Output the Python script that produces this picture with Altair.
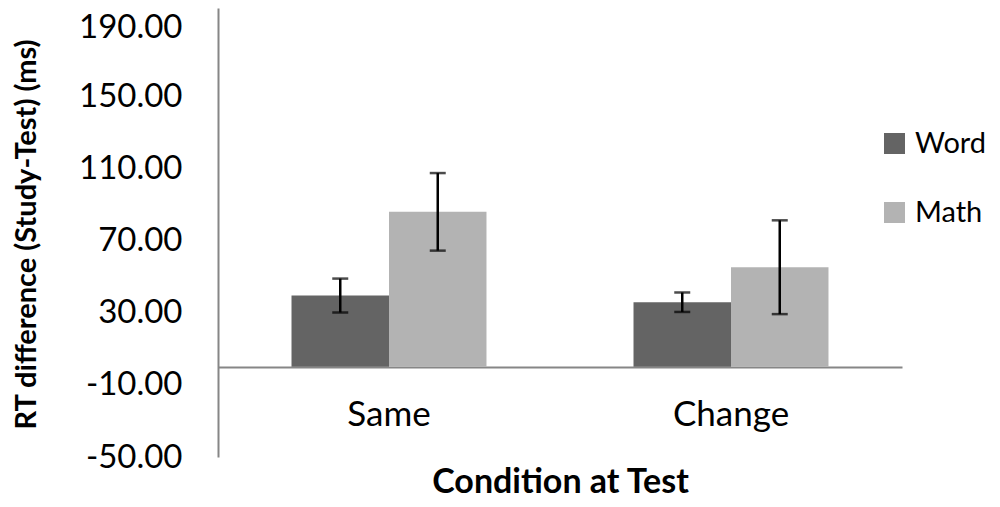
import altair as alt
import pandas as pd

conditions = ["Same", "Same", "Change", "Change"]
groups = ["Word", "Math", "Word", "Math"]
means = [39.5, 85.9, 35.8, 55.2]
errors = [9.4, 21.5, 5.4, 26.0]
y_ticks = [-50, -10, 30, 70, 110, 150, 190]

df = pd.DataFrame({
    "cond": conditions,
    "group": groups,
    "mean": means,
    "lo": [m - e for m, e in zip(means, errors)],
    "hi": [m + e for m, e in zip(means, errors)],
})

FONT = "Lato"
x_enc = alt.X("cond:N", sort=["Same", "Change"],
              scale=alt.Scale(paddingInner=0, paddingOuter=0),
              axis=alt.Axis(title="Condition at Test", orient="bottom", offset=-90,
                            labelAngle=0, ticks=False, domainColor="#868686", domainWidth=2,
                            labelFont=FONT, labelFontSize=35, labelColor="#000000",
                            labelPadding=30, titleFont=FONT, titleFontSize=34,
                            titleFontWeight="bold", titleColor="#000000", titlePadding=33))
xo_enc = alt.XOffset("group:N", sort=["Word", "Math"],
                     scale=alt.Scale(paddingInner=0, paddingOuter=0.754))
y_scale = alt.Scale(domain=[-50, 198.9], nice=False, zero=False)

bars = alt.Chart(df).mark_bar().encode(
    x=x_enc,
    xOffset=xo_enc,
    y=alt.Y("mean:Q", scale=y_scale,
            axis=alt.Axis(title="RT difference (Study-Test) (ms)", values=y_ticks,
                          labelExpr="(datum.value < 0 ? '-' : '') + format(abs(datum.value), '.2f')",
                          labelOffset={"condition": {"test": "datum.value == 190", "value": 3}, "value": 0},
                          ticks=False, grid=False, domainColor="#868686", domainWidth=2,
                          labelFont=FONT, labelFontSize=33, labelColor="#000000", labelPadding=36,
                          titleFont=FONT, titleFontSize=29, titleFontWeight="bold", titleColor="#000000",
                          titleX=-192, titleY=226, titleAlign="center", titleBaseline="middle")),
    y2=alt.datum(0),
    color=alt.Color("group:N", sort=["Word", "Math"],
                    scale=alt.Scale(domain=["Word", "Math"], range=["#646464", "#b3b3b3"]),
                    legend=alt.Legend(title=None, orient="none", legendX=662, legendY=121,
                                      symbolType="square", symbolSize=441, symbolStrokeWidth=0,
                                      labelFont=FONT, labelFontSize=29, labelColor="#000000",
                                      labelOffset=6, rowPadding=39)),
)

rules = alt.Chart(df).mark_rule(color="black", strokeWidth=2.5).encode(
    x=alt.X("cond:N", sort=["Same", "Change"]),
    xOffset=xo_enc,
    y=alt.Y("lo:Q", scale=y_scale),
    y2="hi:Q",
)

caps_lo = alt.Chart(df).mark_tick(color="black", thickness=2.5, size=16).encode(
    x=alt.X("cond:N", sort=["Same", "Change"]),
    xOffset=xo_enc,
    y=alt.Y("lo:Q", scale=y_scale),
)
caps_hi = alt.Chart(df).mark_tick(color="black", thickness=2.5, size=16).encode(
    x=alt.X("cond:N", sort=["Same", "Change"]),
    xOffset=xo_enc,
    y=alt.Y("hi:Q", scale=y_scale),
)

chart = alt.layer(bars, rules, caps_lo, caps_hi).properties(
    width=684, height=449,
    autosize=alt.AutoSizeParams(type="none"),
    padding={"left": 210, "top": 0, "right": 90, "bottom": 42},
    background="white",
).configure_view(stroke=None, strokeWidth=0)

chart.save("out.html", embed_options={"renderer": "svg", "actions": False})
